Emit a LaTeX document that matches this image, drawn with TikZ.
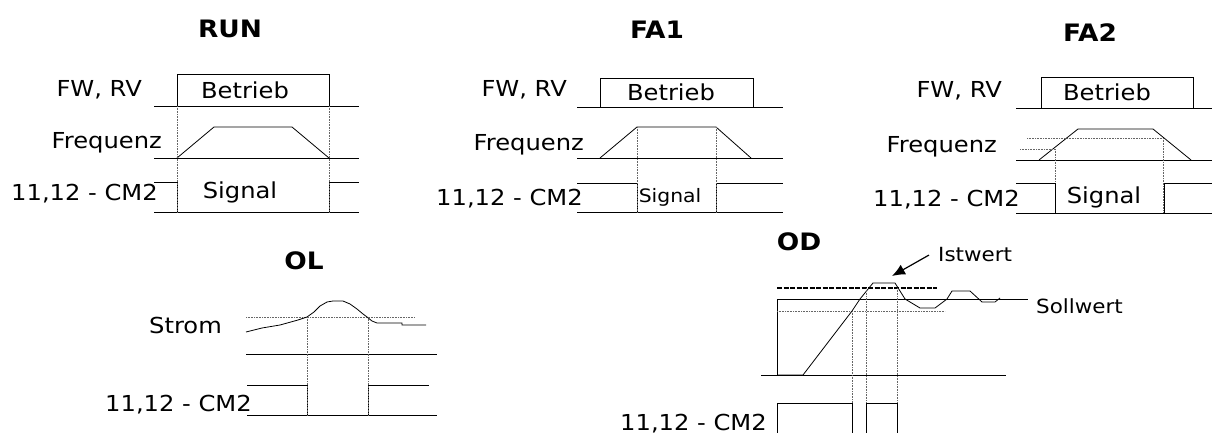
\documentclass[tikz,border=0pt]{standalone}
\usepackage{fontspec}
\setmainfont{DejaVu Sans}[FakeStretch=1.1]
\usetikzlibrary{arrows.meta}
\tikzset{
  lbl/.style={inner sep=0pt, font=\fontsize{22}{24}\selectfont},
  ttl/.style={inner sep=0pt, font=\fontsize{24}{26}\selectfont\bfseries},
  small/.style={inner sep=0pt, font=\fontsize{19.5}{21}\selectfont},
  tiny/.style={inner sep=0pt, font=\fontsize{18.5}{20}\selectfont},
  sig/.style={draw=black, line width=0.8pt},
  dot/.style={draw=black!60, line width=0.6pt, densely dotted},
  dsh/.style={draw=black, line width=1.1pt, dash pattern=on 5pt off 1.5pt},
}
\begin{document}
\begin{tikzpicture}[x=1pt,y=-1pt]
\useasboundingbox (0,0) rectangle (1212,433);

% ---------------- RUN ----------------
\node[ttl,anchor=base] (runT) at (230,38) {RUN};
\node[lbl,anchor=base east] (runFW) at (142,97) {FW, RV};
\node[lbl,anchor=base east] (runF) at (162,148) {Frequenz};
\node[lbl,anchor=base east] (runS) at (158,200) {11,12 - CM2};
\draw[sig] (154,106) -- (359,106);
\draw[sig] (177,74) rectangle (329,106);
\node[lbl,anchor=base] (runB) at (245,99) {Betrieb};
\draw[sig] (154,158) -- (359,158);
\draw[sig] (177,158) -- (214,127) -- (292,127) -- (329,158);
\draw[sig] (154,182) -- (177,182) -- (177,212);
\draw[sig] (329,212) -- (329,182) -- (359,182);
\draw[sig] (154,212) -- (359,212);
\node[lbl,anchor=base] (runSig) at (240,198) {Signal};
\draw[dot] (177,106) -- (177,212);
\draw[dot] (329,106) -- (329,212);

% ---------------- FA1 ----------------
\node[ttl,anchor=base] (fa1T) at (657,39) {FA1};
\node[lbl,anchor=base east] (fa1FW) at (567,97) {FW, RV};
\node[lbl,anchor=base east] (fa1F) at (584,150) {Frequenz};
\node[lbl,anchor=base east] (fa1S) at (583,205) {11,12 - CM2};
\draw[sig] (577,107) -- (783,107);
\draw[sig] (600,78) rectangle (753,107);
\node[lbl,anchor=base] (fa1B) at (671,101) {Betrieb};
\draw[sig] (577,158) -- (783,158);
\draw[sig] (600,158) -- (637,127) -- (716,127) -- (751,158);
\draw[sig] (577,183) -- (637,183) -- (637,212);
\draw[sig] (716,212) -- (716,183) -- (783,183);
\draw[sig] (577,212) -- (783,212);
\node[tiny,anchor=base] (fa1Sig) at (670,202) {Signal};
\draw[dot] (637,127) -- (637,212);
\draw[dot] (716,127) -- (716,212);

% ---------------- FA2 ----------------
\node[ttl,anchor=base] (fa2T) at (1090,42) {FA2};
\node[lbl,anchor=base east] (fa2FW) at (1002,98) {FW, RV};
\node[lbl,anchor=base east] (fa2F) at (997,152) {Frequenz};
\node[lbl,anchor=base east] (fa2S) at (1020,206) {11,12 - CM2};
\draw[sig] (1016,108) -- (1212,108);
\draw[sig] (1041,77) rectangle (1193,108);
\node[lbl,anchor=base] (fa2B) at (1107,101) {Betrieb};
\draw[sig] (1016,160) -- (1212,160);
\draw[sig] (1039,160) -- (1078,129) -- (1153,129) -- (1191,160);
\draw[dot] (1027,138) -- (1163,138);
\draw[dot] (1020,149) -- (1055,149);
\draw[dot] (1055,149) -- (1055,213);
\draw[dot] (1163,138) -- (1163,213);
\draw[sig] (1016,183) -- (1055,183) -- (1055,213);
\draw[sig] (1164,213) -- (1164,183) -- (1212,183);
\draw[sig] (1016,213) -- (1212,213);
\node[lbl,anchor=base] (fa2Sig) at (1104,203) {Signal};

% ---------------- OL ----------------
\node[ttl,anchor=base] (olT) at (304,269) {OL};
\node[lbl,anchor=base east] (olI) at (222,333) {Strom};
\node[lbl,anchor=base east] (olS) at (252,411) {11,12 - CM2};
\draw[dot] (246,317) -- (415,317);
\draw[sig] (246,332) -- (262,328) -- (280,325) -- (298,320) -- (307,317) -- (314,312)
  -- (320,306) -- (327,302) -- (333,301) -- (343,301) -- (350,304) -- (357,309)
  -- (363,314) -- (367,317) -- (372,321) -- (377,323) -- (402,323) -- (402,325) -- (426,325);
\draw[sig] (246,354) -- (437,354);
\draw[sig] (247,385) -- (307,385) -- (307,415);
\draw[sig] (368,415) -- (368,385) -- (429,385);
\draw[sig] (247,415) -- (437,415);
\draw[dot] (307,317) -- (307,415);
\draw[dot] (368,317) -- (368,415);

% ---------------- OD ----------------
\node[ttl,anchor=base] (odT) at (799,250) {OD};
\node[lbl,anchor=base east] (odS) at (767,430) {11,12 - CM2};
\node[small,anchor=base west] (odIst) at (938,261) {Istwert};
\node[small,anchor=base west] (odSoll) at (1036,313) {Sollwert};
\coordinate (odPeak) at (892,276);
\draw[-{Latex[length=13pt,width=11pt]}, line width=1.2pt] ([xshift=-9pt,yshift=-1pt]odIst.west) -- (odPeak);
\draw[dsh] (777,288) -- (937,288);
\draw[sig] (777,299) -- (777,375);
\draw[sig] (777,299) -- (1028,299);
\draw[dot] (777,311) -- (945,311);
\draw[sig] (761,375) -- (1006,375);
\draw[sig] (777,375) -- (803,375) -- (852,311) -- (860,299) -- (873,283) -- (895,283)
  -- (905,299) -- (920,308) -- (935,308) -- (947,299) -- (952,291) -- (970,291)
  -- (982,302) -- (995,302) -- (1000,298);
\draw[dot] (852,311) -- (852,433);
\draw[dot] (866,288) -- (866,433);
\draw[dot] (897,288) -- (897,433);
\draw[sig] (777,433) -- (777,403) -- (852,403) -- (852,433);
\draw[sig] (866,433) -- (866,403) -- (897,403) -- (897,433);
\end{tikzpicture}
\end{document}
